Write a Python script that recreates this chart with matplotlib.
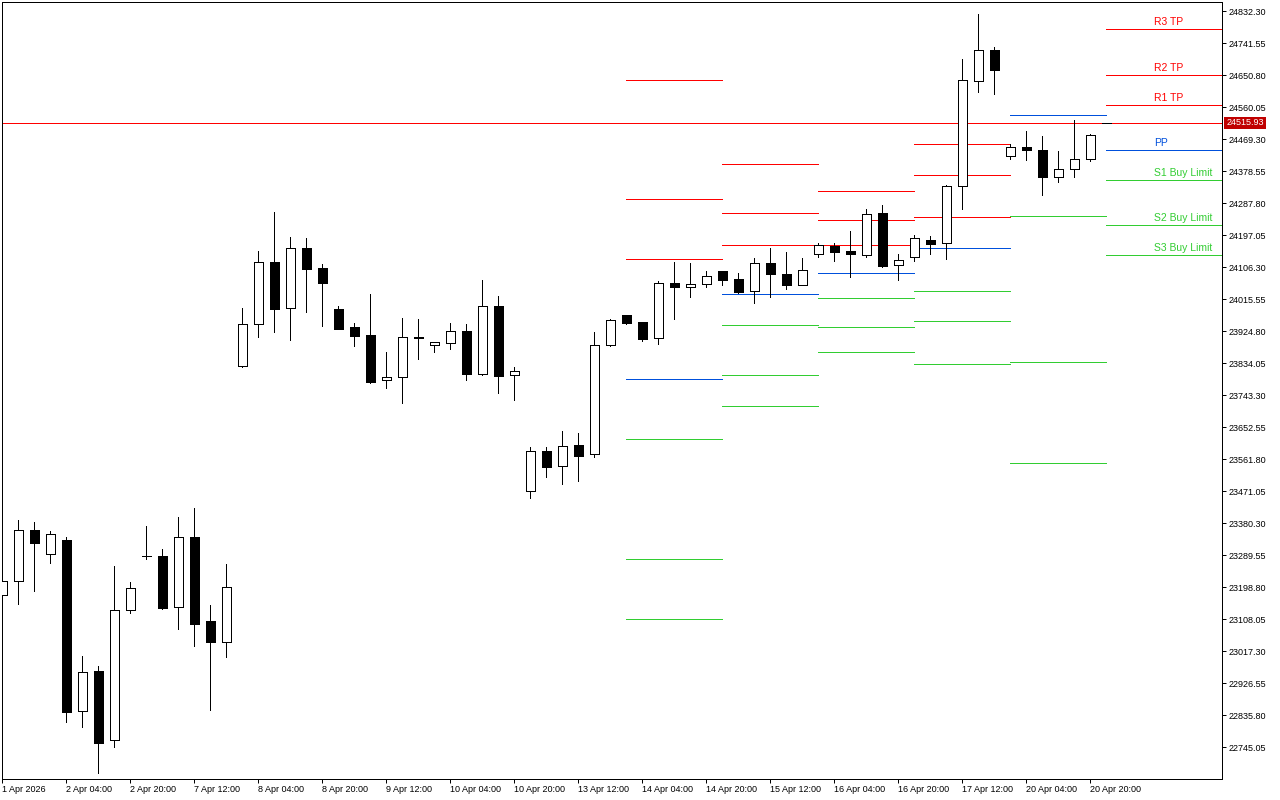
import matplotlib
matplotlib.use("Agg")
import matplotlib.pyplot as plt
import numpy as np
import pandas as pd

# ---------------- data ----------------
# trading days shown (H4 candles) and the hours present on each day
day_list = ["2026-04-01", "2026-04-02", "2026-04-07", "2026-04-08", "2026-04-09",
            "2026-04-10", "2026-04-13", "2026-04-14", "2026-04-15", "2026-04-16",
            "2026-04-17", "2026-04-20", "2026-04-21"]
day_hours = [[12, 16, 20]] + [[0, 4, 8, 12, 16, 20]] * 11 + [[0]]

opens = [23175.7, 23215.4, 23360.2, 23292.1, 23332.6, 22846.5, 22960.9, 22764.5, 23133.1, 23286.4,
         23286.4, 23141.7, 23340.3, 23101.9, 23043.8, 23825.5, 23944.7, 24120.6, 23990.1, 24160.4,
         24103.2, 23988.1, 23937.0, 23914.3, 23785.8, 23794.3, 23908.7, 23885.1, 23891.6, 23924.8,
         23802.8, 23995.8, 23800.0, 23470.8, 23584.3, 23541.8, 23601.4, 23575.8, 23885.1, 23970.2,
         23950.4, 23905.0, 24060.9, 24049.5, 24058.0, 24095.9, 24073.2, 24039.6, 24118.6, 24088.4,
         24056.6, 24142.8, 24167.4, 24152.7, 24140.5, 24260.0, 24112.1, 24135.7, 24183.9, 24174.5,
         24336.3, 24634.2, 24722.2, 24420.9, 24446.4, 24439.0, 24363.0, 24385.7, 24412.9, 24515.93]
highs = [23219.1, 23389.4, 23383.7, 23357.3, 23341.1, 23003.5, 22975.1, 23258.9, 23213.5, 23372.6,
         23306.2, 23397.9, 23423.4, 23147.3, 23264.5, 23991.0, 24152.7, 24263.4, 24192.4, 24189.6,
         24115.8, 23996.6, 23948.4, 24030.7, 23866.1, 23962.6, 23959.7, 23893.6, 23948.4, 23944.7,
         24070.4, 24025.0, 23823.5, 23596.5, 23596.5, 23641.9, 23636.3, 23922.9, 23958.9, 23971.1,
         23951.2, 24066.6, 24121.5, 24118.6, 24094.9, 24097.0, 24090.3, 24132.8, 24161.2, 24149.9,
         24132.8, 24174.5, 24174.5, 24209.4, 24271.9, 24283.2, 24144.2, 24198.1, 24195.3, 24340.0,
         24697.5, 24825.2, 24731.6, 24457.7, 24493.2, 24479.0, 24436.5, 24524.4, 24484.7, 24515.93]
lows = [23172.0, 23150.2, 23188.8, 23268.2, 22817.0, 22802.6, 22670.6, 22746.1, 23126.3, 23279.6,
        23137.7, 23080.9, 23032.7, 22851.1, 23001.5, 23823.5, 23909.5, 23923.4, 23901.0, 23980.5,
        23940.4, 23931.4, 23884.0, 23779.0, 23765.1, 23720.5, 23847.1, 23867.2, 23875.6, 23787.5,
        23800.0, 23750.9, 23729.9, 23451.0, 23512.3, 23492.4, 23500.9, 23569.0, 23882.3, 23946.4,
        23898.2, 23889.7, 23960.9, 24023.3, 24050.7, 24056.6, 24033.5, 24006.0, 24022.2, 24043.9,
        24056.6, 24135.1, 24125.3, 24078.9, 24135.7, 24108.1, 24071.3, 24123.1, 24142.8, 24128.7,
        24272.7, 24604.7, 24599.1, 24413.8, 24410.9, 24310.8, 24348.5, 24363.5, 24408.1, 24515.93]
closes = [23215.4, 23360.2, 23325.0, 23348.8, 22845.4, 22957.2, 22757.4, 23133.1, 23195.6, 23286.4,
          23140.5, 23340.3, 23095.1, 23042.6, 23198.4, 23944.7, 24120.6, 23989.0, 24160.4, 24102.1,
          24062.4, 23932.2, 23912.4, 23781.8, 23794.3, 23908.7, 23905.0, 23893.6, 23924.8, 23802.8,
          23995.8, 23798.8, 23811.3, 23584.3, 23540.6, 23598.5, 23571.8, 23885.1, 23956.1, 23949.2,
          23903.8, 24060.9, 24049.5, 24058.0, 24080.7, 24071.3, 24036.8, 24118.6, 24086.4, 24056.6,
          24098.8, 24168.3, 24150.7, 24142.8, 24256.6, 24111.0, 24126.3, 24188.7, 24173.4, 24336.3,
          24637.1, 24722.2, 24667.2, 24446.4, 24437.9, 24361.8, 24385.7, 24412.9, 24481.3, 24515.93]

current_price = 24515.93

# daily classic pivot levels (NaN = outside the visible range)
pivot_days = ["2026-04-14", "2026-04-15", "2026-04-16", "2026-04-17", "2026-04-20", "2026-04-21"]
r3 = [24637.1, 24398.4, 24323.0, 24455.2, np.nan, 24781.8]
r2 = [24300.2, 24260.0, 24239.8, 24367.2, np.nan, 24651.3]
r1 = [24130.0, 24168.9, 24168.9, 24248.3, np.nan, 24566.1]
pp = [23789.5, 24029.6, 24089.4, 24160.4, 24537.8, 24439.0]
s1 = [23618.1, 23942.1, 24019.3, 24037.9, 24250.9, 24353.9]
s2 = [23278.7, 23800.0, 23936.8, 23953.2, 23836.9, 24225.9]
s3 = [23107.6, 23712.0, 23865.8, 23830.9, 23550.7, 24140.8]
level_names = ["R3 TP", "R2 TP", "R1 TP", "PP", "S1 Buy Limit", "S2 Buy Limit", "S3 Buy Limit"]

y_tick_labels = ["22745.05", "22835.80", "22926.55", "23017.30", "23108.05", "23198.80",
                 "23289.55", "23380.30", "23471.05", "23561.80", "23652.55", "23743.30",
                 "23834.05", "23924.80", "24015.55", "24106.30", "24197.05", "24287.80",
                 "24378.55", "24469.30", "24560.05", "24650.80", "24741.55", "24832.30"]

# ---------------- styling ----------------
RED = "#FF0000"
BLUE = "#0050DC"
GREEN = "#32CD32"
PRICE_BOX = "#C00000"

plt.rcParams["font.family"] = ["Liberation Sans", "DejaVu Sans"]

times = []
for d, hrs in zip(day_list, day_hours):
    for h in hrs:
        times.append(pd.Timestamp(d) + pd.Timedelta(hours=h))
times = pd.DatetimeIndex(times)
x = np.arange(len(times))
o = np.array(opens); h_ = np.array(highs); l_ = np.array(lows); c = np.array(closes)

W, H = 1280, 800
fig = plt.figure(figsize=(W / 100, H / 100), dpi=100)
ax = fig.add_axes([2.3 / W, 1 - 779 / H, 1220 / W, 776.7 / H])
ax.set_facecolor("white")

px = 72 / 100  # one pixel in points

# current price line
ax.axhline(current_price, color=RED, lw=px, zorder=1, antialiased=False)

# pivot lines
x_right = 76.25
day_keys = times.normalize()
levels = [r3, r2, r1, pp, s1, s2, s3]
colors = [RED, RED, RED, BLUE, GREEN, GREEN, GREEN]
for k, dstr in enumerate(pivot_days):
    d = pd.Timestamp(dstr)
    start = int(np.where(day_keys == d)[0][0])
    later = np.where(day_keys > d)[0]
    end = int(later[0]) if len(later) else x_right
    for lev, col in zip(levels, colors):
        v = lev[k]
        if not np.isnan(v):
            ax.hlines(v, start, end, colors=col, lw=px, zorder=1.5, antialiased=False)

# labels for the current day's levels
lab_x = len(x) + 2
for lev, col, name in zip(levels, colors, level_names):
    ax.annotate(name, xy=(lab_x, lev[-1]), xytext=(0, 2), textcoords="offset pixels",
                color=col, fontsize=7.5, ha="left", va="bottom", zorder=5)

# candles
ax.vlines(x, l_, h_, colors="black", lw=px, zorder=2, antialiased=False)
bull = c > o
face = np.where(bull, "white", "black")
bars = ax.bar(x, np.abs(c - o), bottom=np.minimum(o, c), width=0.5625, color=face,
              edgecolor="black", linewidth=px, zorder=3)
for b in bars:
    b.set_antialiased(False)

# axes limits
ax.set_xlim(0, x_right)
ax.set_ylim(22654.4, 24858.4)

# y ticks on the right
yt = [float(s) for s in y_tick_labels]
ax.yaxis.tick_right()
ax.set_yticks(yt)
ax.set_yticklabels(y_tick_labels)
ax.tick_params(axis="y", direction="out", length=3, width=px, pad=1.5, labelsize=6.5,
               colors="black")

# x ticks every 4 candles
xt = list(range(0, len(x) - 1, 4))
xl = []
for i in xt:
    t = times[i]
    if i == 0:
        xl.append(f"{t.day} {t.strftime('%b %Y')}")
    else:
        xl.append(f"{t.day} {t.strftime('%b %H:%M')}")
ax.set_xticks(xt)
ax.set_xticklabels(xl)
ax.tick_params(axis="x", direction="out", length=3, width=px, pad=1, labelsize=6.5)
for lbl in ax.get_xticklabels():
    lbl.set_ha("left")

for sp in ax.spines.values():
    sp.set_linewidth(px)
    sp.set_color("black")
    sp.set_antialiased(False)

# current price tag on the axis
ax.annotate(f"{current_price:.2f}", xy=(1, current_price),
            xycoords=("axes fraction", "data"), xytext=(4, 0), textcoords="offset pixels",
            ha="left", va="center", fontsize=6.5, color="white", zorder=6,
            bbox=dict(boxstyle="square,pad=0.2", fc=PRICE_BOX, ec="none"),
            annotation_clip=False)

fig.savefig("out.png", dpi=100, facecolor="white")
